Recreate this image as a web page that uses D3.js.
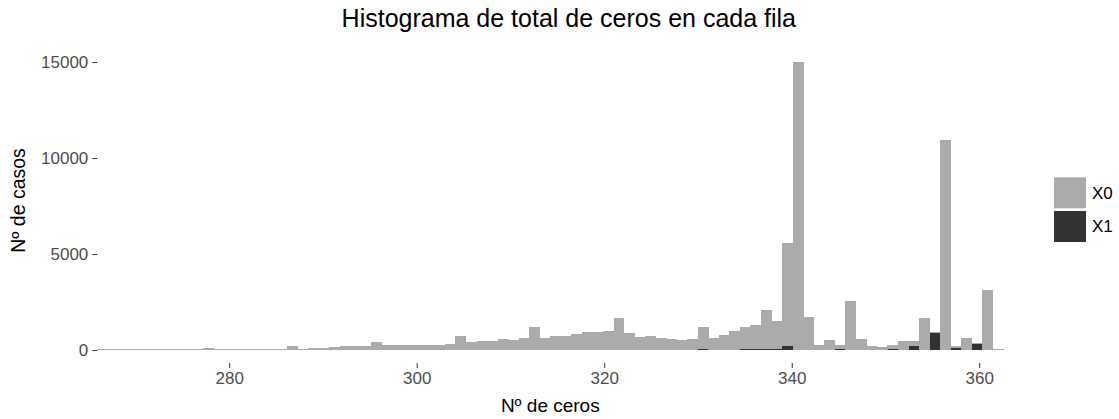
<!DOCTYPE html>
<html>
<head>
<meta charset="utf-8">
<script src="https://cdn.jsdelivr.net/npm/d3@7"></script>
<style>
  html, body { margin: 0; padding: 0; background: #ffffff; }
  svg text { font-family: "Liberation Sans", Arial, Helvetica, sans-serif; }
</style>
</head>
<body>
<svg id="chart" width="1119" height="419"></svg>
<script>
// ---- data ----
const binStart = 265.93;      // left edge of first bin (Nº de ceros)
const binWidth = 1.1237;      // width of each bin (Nº de ceros)
const seriesNames = ["X0", "X1"];
const countsTotal = [
  30, 30, 35, 30, 40, 35, 40, 45, 40, 45,
  80, 50, 75, 50, 65, 65, 70, 65, 200, 70,
  100, 104, 156, 208, 208, 208, 417, 260, 260, 260,
  260, 260, 260, 313, 729, 417, 469, 469, 573, 521,
  625, 1198, 625, 729, 729, 833, 938, 938, 990, 1667,
  885, 677, 729, 625, 573, 521, 573, 1205, 641, 781,
  990, 1210, 1302, 2083, 1515, 5590, 15000, 1734, 260, 520,
  260, 2552, 573, 224, 156, 260, 469, 469, 1682, 930,
  10937, 210, 641, 360, 3125, 30
];
const countsX1 = [
  0, 0, 0, 0, 0, 0, 0, 0, 0, 0,
  0, 0, 0, 0, 0, 0, 0, 0, 0, 0,
  0, 0, 0, 0, 0, 0, 0, 0, 0, 0,
  0, 0, 0, 0, 0, 0, 0, 0, 0, 0,
  0, 0, 0, 0, 0, 0, 0, 0, 0, 0,
  0, 0, 0, 0, 0, 0, 0, 50, 0, 0,
  0, 50, 50, 50, 50, 215, 0, 0, 0, 0,
  55, 0, 0, 0, 0, 50, 0, 215, 0, 900,
  0, 105, 0, 335, 0, 0
];
// X0 counts = total bar height minus X1 part
const countsX0 = countsTotal.map((t, i) => t - countsX1[i]);
const xTicks = [280, 300, 320, 340, 360];
const yTicks = [0, 5000, 10000, 15000];
const titleText = "Histograma de total de ceros en cada fila";
const xTitle = "Nº de ceros";
const yTitle = "Nº de casos";

// ---- layout ----
const svg = d3.select("#chart");
const colors = { X0: "#ABABAB", X1: "#333333" };
const textGray = "#4D4D4D";

const rows = countsX0.map((v, i) => ({
  x0: binStart + i * binWidth,
  x1: binStart + (i + 1) * binWidth,
  X0: v,
  X1: countsX1[i]
}));

const x = d3.scaleLinear()
  .domain([binStart, binStart + rows.length * binWidth])
  .range([97.3, 1003.3]);
const y = d3.scaleLinear().domain([0, 15000]).range([350, 62]);

// stack: X1 at the bottom, X0 on top
const stack = d3.stack().keys(["X1", "X0"]);
const layers = stack(rows);

svg.append("g").attr("shape-rendering", "crispEdges").selectAll("g")
  .data(layers)
  .join("g")
  .attr("fill", d => colors[d.key])
  .selectAll("rect")
  .data(d => d)
  .join("rect")
  .attr("x", d => x(d.data.x0))
  .attr("width", d => x(d.data.x1) - x(d.data.x0) + 0.4)
  .attr("y", d => y(d[1]))
  .attr("height", d => Math.max(0, y(d[0]) - y(d[1])));

// y axis
const yAxis = d3.axisLeft(y).tickValues(yTicks).tickSize(5).tickPadding(4).tickFormat(d3.format("d"));
const gy = svg.append("g").attr("transform", "translate(97.3,0)").call(yAxis);
gy.select(".domain").remove();
gy.selectAll(".tick line").attr("stroke", "#333333").attr("stroke-width", 1);
gy.selectAll(".tick text").attr("fill", textGray).style("font-size", "17px");

// x axis
const xAxis = d3.axisBottom(x).tickValues(xTicks).tickSize(5).tickPadding(4).tickFormat(d3.format("d"));
const gx = svg.append("g").attr("transform", "translate(0,363)").call(xAxis);
gx.select(".domain").remove();
gx.selectAll(".tick line").attr("stroke", "#333333").attr("stroke-width", 1);
gx.selectAll(".tick text").attr("fill", textGray).style("font-size", "17px");

// titles
svg.append("text")
  .attr("x", 568.8).attr("y", 27)
  .attr("text-anchor", "middle")
  .style("font-size", "25px")
  .attr("fill", "#000")
  .text(titleText);

svg.append("text")
  .attr("x", 550.3).attr("y", 412)
  .attr("text-anchor", "middle")
  .style("font-size", "19px")
  .attr("fill", "#000")
  .text(xTitle);

svg.append("text")
  .attr("transform", "translate(25,200.5) rotate(-90)")
  .attr("text-anchor", "middle")
  .style("font-size", "19.5px")
  .attr("fill", "#000")
  .text(yTitle);

// legend
const legend = svg.append("g").attr("transform", "translate(1054,177.3)");
seriesNames.forEach((name, i) => {
  const g = legend.append("g").attr("transform", `translate(0,${i * 33.7})`);
  g.append("rect").attr("width", 32).attr("height", 31).attr("fill", colors[name]);
  g.append("text").attr("x", 38).attr("y", 15.5).attr("dy", "0.35em")
    .style("font-size", "17px").attr("fill", "#000").text(name);
});
</script>
</body>
</html>
